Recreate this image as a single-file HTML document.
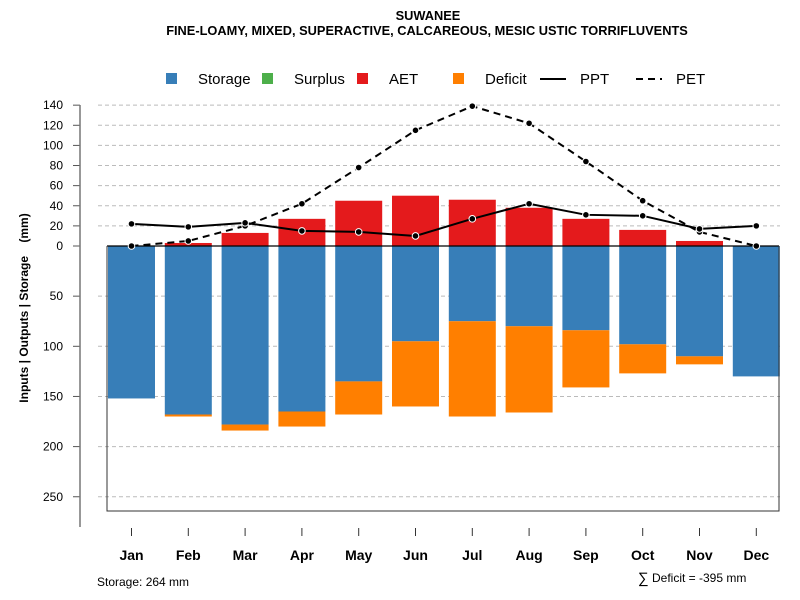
<!DOCTYPE html>
<html><head><meta charset="utf-8"><style>
body{margin:0;background:#fff;}
svg{display:block;font-family:"Liberation Sans",sans-serif;}
</style></head><body>
<svg id="c" width="800" height="600" xmlns="http://www.w3.org/2000/svg">
<text x="428" y="20" text-anchor="middle" font-size="12.8" font-weight="bold">SUWANEE</text>
<text x="427" y="35" text-anchor="middle" font-size="12.8" font-weight="bold">FINE-LOAMY, MIXED, SUPERACTIVE, CALCAREOUS, MESIC USTIC TORRIFLUVENTS</text>
<g font-size="15">
<g><rect x="166" y="73" width="11" height="11" fill="#377EB8"/><text x="198" y="84">Storage</text></g>
<g><rect x="262" y="73" width="11" height="11" fill="#4DAF4A"/><text x="294" y="84">Surplus</text></g>
<g><rect x="357" y="73" width="11" height="11" fill="#E41A1C"/><text x="389" y="84">AET</text></g>
<g><rect x="453" y="73" width="11" height="11" fill="#FF7F00"/><text x="485" y="84">Deficit</text></g>
<g><line x1="540" y1="79" x2="566" y2="79" stroke="#000" stroke-width="2"/><text x="580" y="84">PPT</text></g>
<g><line x1="636" y1="79" x2="662" y2="79" stroke="#000" stroke-width="2" stroke-dasharray="7,5"/><text x="676" y="84">PET</text></g>
</g>
<text transform="translate(28,308) rotate(-90)" text-anchor="middle" font-size="12" font-weight="bold" xml:space="preserve" style="white-space:pre">Inputs | Outputs | Storage    (mm)</text>
<g id="grid"></g>
<g id="bars"></g>
<g id="lines"></g>
<g id="axes"></g>
<text x="97" y="586" font-size="12">Storage: 264 mm</text>
<text x="638" y="583" font-size="15">∑</text>
<text x="652" y="582" font-size="12">Deficit = -395 mm</text>
</svg>
<script>
const months=["Jan","Feb","Mar","Apr","May","Jun","Jul","Aug","Sep","Oct","Nov","Dec"];
const storage=[152,168,178,165,135,95,75,80,84,98,110,130];
const deficit=[0,2,6,15,33,65,95,86,57,29,8,0];
const aet=[0,3,13,27,45,50,46,38,27,16,5,0];
const ppt=[22,19,23,15,14,10,27,42,31,30,17,20];
const pet=[0,5,20,42,78,115,139,122,84,45,14,0];
const posTicks=[0,20,40,60,80,100,120,140];
const negTicks=[50,100,150,200,250];

const NS="http://www.w3.org/2000/svg";
function el(p,t,a){const e=document.createElementNS(NS,t);for(const k in a)e.setAttribute(k,a[k]);document.getElementById(p).appendChild(e);return e;}
const y0=246, k=1.006;
const yPos=v=>y0-v*k;
const yNeg=v=>y0+v*1.003;
const xC=i=>131.5+i*56.8;
const bw=47;

posTicks.forEach(t=>{
 if(t>0){const g=el("grid","line",{x1:98,x2:780,y1:yPos(t),y2:yPos(t),stroke:"#bbb","stroke-dasharray":"4,3"});
 
 }
 const tk=el("axes","line",{x1:73,x2:80,y1:yPos(t),y2:yPos(t),stroke:"#555"});
 
 
 const tx=el("axes","text",{x:63,y:yPos(t)+4,"text-anchor":"end","font-size":12});
 
 
 tx.textContent=t;
});
negTicks.forEach(t=>{
 const g=el("grid","line",{x1:98,x2:780,y1:yNeg(t),y2:yNeg(t),stroke:"#bbb","stroke-dasharray":"4,3"});
 
 
 const tk=el("axes","line",{x1:73,x2:80,y1:yNeg(t),y2:yNeg(t),stroke:"#555"});
 
 
 const tx=el("axes","text",{x:63,y:yNeg(t)+4,"text-anchor":"end","font-size":12});
 
 
 tx.textContent=t;
});
const ax=el("axes","line",{x1:80,x2:80,y1:105,y2:527,stroke:"#777","stroke-width":1.5});


const bx=el("axes","path",{d:"M107,246 V511 H779 V246",fill:"none",stroke:"#333"});



months.forEach((m,i)=>{
 const x=xC(i)-bw/2;
 const s=el("bars","rect",{x:x,y:y0,width:bw,height:yNeg(storage[i])-y0,fill:"#377EB8"});
 
 
 if(deficit[i]>0){const d=el("bars","rect",{x:x,y:yNeg(storage[i]),width:bw,height:yNeg(storage[i]+deficit[i])-yNeg(storage[i]),fill:"#FF7F00"});
 
 }
 if(aet[i]>0){const a=el("bars","rect",{x:x,y:yPos(aet[i]),width:bw,height:y0-yPos(aet[i]),fill:"#E41A1C"});
 
 }
 const tk=el("axes","line",{x1:xC(i),x2:xC(i),y1:528,y2:536,stroke:"#333"});
 
 
 const tx=el("axes","text",{x:xC(i),y:560,"text-anchor":"middle","font-size":14,"font-weight":"bold"});
 
 
 tx.textContent=m;
});
const zl=el("bars","line",{x1:107,x2:779,y1:y0,y2:y0,stroke:"#000","stroke-width":1.2});



function series(vals,name,dash){
 const pts=vals.map((v,i)=>xC(i)+","+yPos(v)).join(" ");
 const l=el("lines","polyline",{points:pts,fill:"none",stroke:"#000","stroke-width":2,"stroke-dasharray":dash});
 
 
 vals.forEach((v,i)=>{
  const c=el("lines","circle",{cx:xC(i),cy:yPos(v),r:3.3,fill:"#000",stroke:"#fff","stroke-width":1});
  
  
 });
}
series(pet,"pet","7,5");
series(ppt,"ppt","none");
</script>
</body></html>
